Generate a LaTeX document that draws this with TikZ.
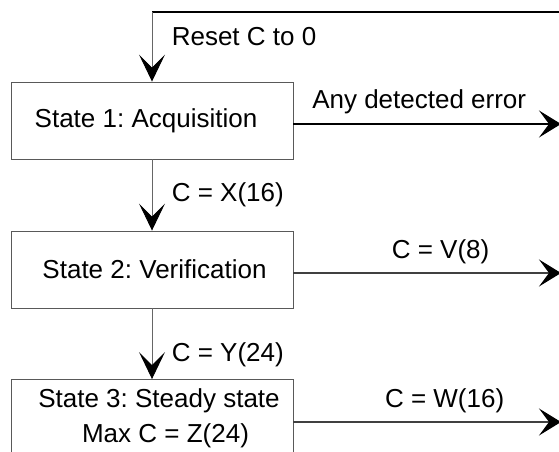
\documentclass[tikz,border=0pt]{standalone}
\usepackage{fontspec}
\setmainfont{Liberation Sans}
\frenchspacing
\usetikzlibrary{arrows.meta}
\tikzset{
  statebox/.style={draw=black!65, line width=0.9pt, minimum width=282pt, minimum height=77pt, align=center},
  flow/.style={draw=black!60, line width=0.9pt, -{Stealth[length=27pt,width=26pt,inset=13pt,black]}},
  exitflow/.style={draw=black!75, line width=1.4pt, -{Stealth[length=22pt,width=27pt,inset=10pt,black]}},
  looplin/.style={draw=black, line width=1.4pt}
}
\begin{document}
\begin{tikzpicture}[x=1pt,y=-1pt,font=\fontsize{26}{35}\selectfont]
                \useasboundingbox (0,0) rectangle (559,452);
                \clip (0,0) rectangle (559,452);
                % states
                \node[statebox] (s1) at (152,120.5) {\hspace*{-12pt}State 1: Acquisition};
                \node[statebox] (s2) at (152,269.5) {\hspace*{5pt}State 2: Verification};
                \node[statebox] (s3) at (152,418) {\hspace*{14pt}State 3: Steady state\\\hspace*{27pt}Max C = Z(24)};
                % free ends
                \coordinate (r0) at (575,12);
                \coordinate (rc) at (152,12);
                \coordinate (e1) at (561,124);
                \coordinate (e2) at (561,273);
                \coordinate (e3) at (561,422);
                % reset loop
                \draw[looplin] (r0) -- (rc);
                \draw[flow] (rc) -- (s1.north) node[pos=0.36,right,xshift=16pt] {Reset C to 0};
                % transitions
                \draw[flow] (s1) -- (s2) node[pos=0.5,right,xshift=16pt] {C = X(16)};
                \draw[flow] (s2) -- (s3) node[pos=0.65,right,xshift=16pt] {C = Y(24)};
                % exits
                \draw[exitflow,black] (s1.east |- e1) -- (e1) node[pos=0.47,above,yshift=6pt] {Any detected error};
                \draw[exitflow] (s2.east |- e2) -- (e2) node[pos=0.55,above,yshift=5pt] {C = V(8)};
                \draw[exitflow] (s3.east |- e3) -- (e3) node[pos=0.565,above,yshift=5pt] {C = W(16)};
            \end{tikzpicture}
\end{document}
